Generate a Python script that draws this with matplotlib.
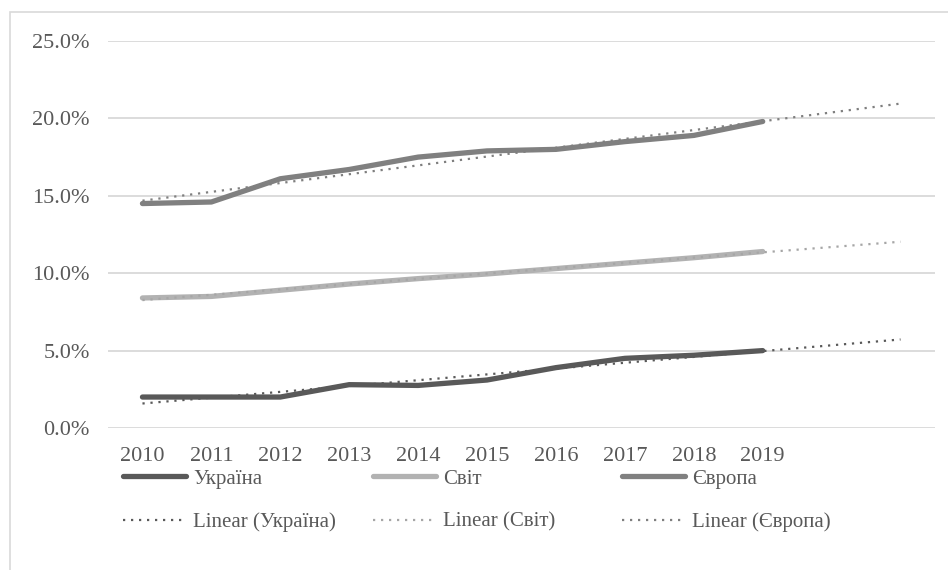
import numpy as np
import matplotlib
matplotlib.use("Agg")
import matplotlib.pyplot as plt
import matplotlib.ticker as mticker
from matplotlib.patches import Rectangle

# values in %
years = ["2010", "2011", "2012", "2013", "2014", "2015", "2016", "2017", "2018", "2019"]
ukraine = [2.0, 2.0, 2.0, 2.8, 2.75, 3.1, 3.9, 4.5, 4.7, 5.0]
world = [8.4, 8.5, 8.9, 9.3, 9.65, 9.95, 10.3, 10.65, 11.0, 11.4]
europe = [14.5, 14.6, 16.1, 16.7, 17.5, 17.9, 18.0, 18.5, 18.9, 19.8]
names = ["Україна", "Світ", "Європа"]
FORWARD = 2          # Excel trendline "forecast forward" periods

TXT = "#595959"
GRID = "#d9d9d9"
COLORS = ["#595959", "#b2b2b2", "#808080"]
TREND = ["#595959", "#a6a6a6", "#7f7f7f"]

plt.rcParams["font.family"] = ["Liberation Serif", "DejaVu Serif"]

fig = plt.figure(figsize=(9.48, 5.7), dpi=100)
ax = fig.add_axes([108 / 948, 1 - 428 / 570, 827 / 948, 387 / 570])

x = np.arange(len(years))
xf = np.arange(len(years) + FORWARD)
lines, trends = [], []
for vals, c, tc, name in zip([ukraine, world, europe], COLORS, TREND, names):
    ln, = ax.plot(x, vals, color=c, lw=3.8, solid_capstyle="round",
                  solid_joinstyle="round", label=name, zorder=3)
    k, b = np.polyfit(x, vals, 1)
    tr, = ax.plot(xf, k * xf + b, color=tc, lw=1.6, dashes=(1, 2.6),
                  label=f"Linear ({name})", zorder=4)
    lines.append(ln)
    trends.append(tr)

ax.set_xlim(-0.5, len(xf) - 0.5)
ax.set_ylim(0, 25)
ax.set_yticks(np.arange(0, 26, 5))
ax.yaxis.set_major_formatter(mticker.FuncFormatter(lambda v, _: f"{v:.1f}%"))
ax.set_xticks(x)
ax.set_xticklabels(years)
ax.tick_params(length=0, labelsize=16, colors=TXT)
ax.tick_params(axis="y", pad=13)
ax.tick_params(axis="x", pad=14)
ax.grid(axis="y", color=GRID, lw=1.3)
ax.set_axisbelow(True)
for s in ax.spines.values():
    s.set_visible(False)

# legend: three columns, series on top row and trendlines below
for i, col_x in enumerate([123, 373, 622]):
    leg = fig.legend(handles=[lines[i], trends[i]], loc="upper left",
                     bbox_to_anchor=(col_x / 948, 1 - 469 / 570),
                     frameon=False, fontsize=15, handlelength=3.0,
                     handletextpad=0.36, borderpad=0, borderaxespad=0,
                     labelspacing=1.14, labelcolor=TXT)

# chart area border (cropped at right and bottom)
fig.patches.append(Rectangle((10 / 948, -0.1), 1.2, 1 - 12 / 570 + 0.1,
                             transform=fig.transFigure, fill=False,
                             edgecolor=GRID, lw=1.2))

fig.savefig("out.png", dpi=100, facecolor="white")
